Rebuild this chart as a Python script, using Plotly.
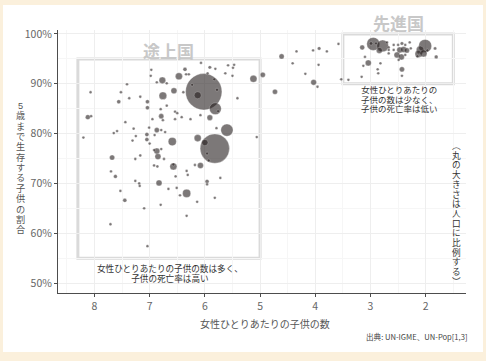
import plotly.graph_objects as go

# ---------------- data ----------------
# total fertility rate (children per woman)
tfr = [
    6.07, 5.91, 5.81, 5.58, 5.47, 5.49, 6.36, 6.97, 5.63, 5.50,
    5.12, 6.47, 6.34, 6.29, 6.98, 6.77, 6.87, 6.69, 7.41, 5.95,
    5.83, 6.23, 6.02, 6.13, 5.78, 6.56, 6.39, 6.76, 8.07, 7.52,
    7.56, 7.37, 7.17, 7.04, 7.04, 5.41, 5.81, 5.76, 5.91, 6.54,
    6.50, 6.80, 6.69, 6.79, 6.95, 6.76, 8.12, 8.06, 6.54, 6.42,
    6.26, 6.08, 7.44, 7.01, 7.29, 6.87, 6.79, 6.72, 7.59, 7.65,
    7.25, 7.05, 6.91, 7.05, 7.31, 8.20, 6.59, 6.13, 5.79, 5.60,
    5.06, 5.82, 6.00, 5.96, 5.93, 7.00, 6.79, 6.87, 6.85, 6.92,
    7.17, 7.26, 6.74, 7.68, 6.92, 6.86, 6.57, 6.57, 6.18, 6.08,
    7.70, 7.62, 6.33, 6.31, 6.53, 5.72, 7.26, 7.19, 7.18, 6.83,
    5.96, 5.96, 6.51, 6.66, 7.53, 6.33, 6.45, 6.14, 5.82, 7.45,
    6.80, 7.10, 6.33, 7.71, 7.04,
    # transition
    4.95, 4.73, 4.61, 4.34, 4.41, 4.18, 4.04, 3.93, 3.79, 3.94,
    4.03, 3.96, 3.58, 3.53, 3.40,
    # developed
    3.15, 2.95, 2.78, 2.84, 2.70, 2.67, 2.67, 2.67, 3.10, 3.04,
    3.13, 2.82, 2.87, 2.86, 3.16, 2.99, 2.90,
    2.58, 2.50, 2.43, 2.37, 2.29, 2.47, 2.40, 2.34, 2.52, 2.44,
    2.37, 2.49, 2.58, 2.27, 2.43, 2.43,
    2.01, 2.10, 2.13, 2.04, 1.97, 1.83, 1.81, 2.15,
]

# share of children surviving to age 5 (%)
survival = [
    94.2, 93.3, 93.0, 93.7, 93.8, 93.2, 92.9, 92.8, 92.1, 91.6,
    91.0, 91.5, 91.9, 91.9, 91.6, 90.7, 90.3, 90.1, 89.9, 92.1,
    90.9, 89.8, 88.4, 87.7, 88.8, 88.6, 88.3, 87.6, 88.3, 88.3,
    86.4, 87.1, 87.4, 86.4, 85.2, 87.1, 85.0, 84.5, 83.2, 84.4,
    84.1, 84.9, 85.6, 83.5, 82.9, 82.7, 83.3, 83.5, 82.9, 83.3,
    82.9, 83.7, 82.3, 81.2, 81.0, 80.7, 80.7, 80.3, 80.5, 80.1,
    79.5, 79.8, 79.7, 78.8, 78.6, 79.2, 78.4, 79.1, 81.1, 80.7,
    79.3, 77.0, 78.2, 76.0, 74.6, 78.0, 76.9, 76.5, 75.4, 76.7,
    75.6, 74.9, 74.9, 75.2, 73.6, 73.4, 73.8, 73.4, 73.7, 73.6,
    72.4, 71.4, 72.5, 71.7, 71.4, 71.1, 70.5, 70.0, 69.5, 70.1,
    70.4, 69.8, 69.1, 68.9, 68.5, 68.0, 67.6, 66.3, 67.1, 66.6,
    65.7, 65.0, 63.5, 61.8, 57.4,
    # transition
    91.8, 88.4, 95.5, 96.5, 94.1, 92.0, 96.7, 97.1, 96.5, 93.8,
    90.3, 89.4, 98.0, 90.9, 90.8,
    # developed
    97.3, 98.0, 97.6, 96.7, 98.3, 97.3, 96.8, 96.1, 95.4, 94.2,
    93.6, 94.1, 92.9, 92.1, 91.4, 98.1, 98.1,
    97.8, 97.8, 98.1, 97.8, 98.3, 96.8, 96.9, 96.7, 95.8, 95.4,
    95.8, 94.8, 96.8, 97.1, 92.9, 91.6,
    97.6, 96.8, 96.0, 96.1, 96.7, 97.1, 95.4, 95.5,
]

# population (millions)
population = [
    4, 6, 4, 4, 4, 4, 8, 4, 4, 4,
    25, 25, 4, 4, 4, 22, 4, 4, 4, 4,
    4, 4, 660, 25, 5, 18, 4, 30, 4, 4,
    8, 4, 4, 8, 8, 4, 70, 4, 16, 4,
    4, 4, 4, 13, 4, 4, 12, 4, 4, 4,
    4, 4, 4, 4, 4, 13, 4, 4, 4, 4,
    4, 8, 4, 8, 4, 4, 33, 25, 4, 75,
    4, 430, 20, 4, 4, 4, 4, 18, 18, 4,
    4, 4, 4, 13, 4, 4, 4, 25, 4, 18,
    4, 7, 4, 4, 4, 4, 4, 4, 4, 18,
    8, 4, 4, 4, 4, 33, 4, 4, 4, 8,
    4, 4, 4, 4, 4,
    # transition
    13, 13, 13, 4, 4, 4, 4, 6, 4, 4,
    16, 4, 4, 4, 4,
    # developed
    12, 85, 70, 18, 4, 4, 4, 4, 4, 18,
    4, 4, 4, 4, 4, 6, 4,
    4, 4, 6, 4, 4, 18, 18, 13, 18, 18,
    4, 4, 4, 4, 13, 4,
    85, 30, 25, 25, 4, 5, 7, 4,
]

x_ticks = [8, 7, 6, 5, 4, 3, 2]
y_ticks = [0.5, 0.6, 0.7, 0.8, 0.9, 1.0]
y_tick_text = ["50%", "60%", "70%", "80%", "90%", "100%"]

# ---------------- figure ----------------
W, H = 486, 361
ML, MR, MT, MB = 58, 20, 30, 68
PW, PH = W - ML - MR, H - MT - MB
FONT = "Noto Sans CJK JP"
TIGHT = "Liberation Sans, Noto Sans CJK JP"   # compact line metrics for stacked text
CREAM = "#fbf0dc"


def px_x(px):
    return (px - ML) / PW


def px_y(py):
    return (H - MB - py) / PH


def stacked(items, glyph_px):
    """Stack items vertically, each in its own span of the given glyph size."""
    return "<br>".join('<span style="font-size:%.2fpx">%s</span>' % (glyph_px, c)
                       for c in items)


order = sorted(range(len(tfr)), key=lambda i: -population[i])
xs = [tfr[i] for i in order]
ys = [survival[i] / 100 for i in order]
ss = [population[i] for i in order]

fig = go.Figure()
fig.add_trace(go.Scatter(
    x=xs, y=ys, mode="markers",
    marker=dict(size=ss, sizemode="area", sizeref=1.0, sizemin=1.3,
                color="rgba(35,27,27,0.84)",
                line=dict(color="rgba(255,255,255,0.6)", width=0.5)),
    hoverinfo="skip", showlegend=False,
))

shapes = [
    # white panel on cream page
    dict(type="rect", xref="paper", yref="paper",
         x0=px_x(3), x1=px_x(483), y0=px_y(352), y1=px_y(5),
         fillcolor="white", line=dict(width=0), layer="below"),
    dict(type="rect", xref="x", yref="y", x0=8.3, x1=5.0, y0=0.55, y1=0.95,
         line=dict(color="#dadada", width=3), layer="below"),
    dict(type="rect", xref="x", yref="y", x0=3.5, x1=1.5, y0=0.90, y1=1.0,
         line=dict(color="#dadada", width=3), layer="below"),
]

ann = [
    dict(x=6.65, y=px_y(50), xref="x", yref="paper", text="途上国", showarrow=False,
         xanchor="center", yanchor="middle",
         font=dict(family=FONT, size=17, color="#c8c8c8", weight="bold")),
    dict(x=2.5, y=px_y(22.7), xref="x", yref="paper", text="先進国", showarrow=False,
         xanchor="center", yanchor="middle",
         font=dict(family=FONT, size=17, color="#c8c8c8", weight="bold")),
]

# multi-line notes: line pitch set by base font size (1.3em), glyphs via span size
dev_lines = ["女性ひとりあたりの", "子供の数は少なく、", "子供の死亡率は低い"]
ann.append(dict(x=2.47, y=px_y(99.6), xref="x", yref="paper",
                text=stacked(dev_lines, 8.5),
                showarrow=False, xanchor="center", yanchor="middle", borderpad=0,
                font=dict(family=TIGHT, size=9.6 / 1.3, color="#333333")))

low_lines = ["女性ひとりあたりの子供の数は多く、", "子供の死亡率は高い"]
ann.append(dict(x=6.63, y=px_y(273.3), xref="x", yref="paper",
                text=stacked(low_lines, 8.6),
                showarrow=False, xanchor="center", yanchor="middle", borderpad=0,
                font=dict(family=TIGHT, size=10 / 1.3, color="#333333")))

# vertical y-axis title (upright stacked characters)
ytitle = "5歳まで生存する子供の割合"
ann.append(dict(x=px_x(20.7), y=px_y(168), xref="paper", yref="paper",
                text=stacked(ytitle, 9.2), showarrow=False,
                xanchor="center", yanchor="middle", borderpad=0,
                font=dict(family=TIGHT, size=10.35 / 1.3, color="#555555")))

# vertical note on the right
note = "︵丸の大きさは人口に比例する︶"
ann.append(dict(x=px_x(456), y=px_y(214), xref="paper", yref="paper",
                text=stacked(note, 8.65), showarrow=False,
                xanchor="center", yanchor="middle", borderpad=0,
                font=dict(family=TIGHT, size=9.7 / 1.3, color="#333333")))

ann.append(dict(x=px_x(265), y=px_y(323), xref="paper", yref="paper",
                text="女性ひとりあたりの子供の数", showarrow=False,
                xanchor="center", yanchor="middle",
                font=dict(family=FONT, size=10, color="#555555")))
ann.append(dict(x=px_x(469), y=px_y(336), xref="paper", yref="paper",
                text="出典: UN-IGME、UN-Pop[1,3]", showarrow=False,
                xanchor="right", yanchor="middle",
                font=dict(family=FONT, size=7.6, color="#444444")))

fig.update_layout(
    width=W, height=H,
    margin=dict(l=ML, r=MR, t=MT, b=MB, pad=0),
    paper_bgcolor=CREAM, plot_bgcolor="white",
    font=dict(family=FONT),
    shapes=shapes, annotations=ann,
    xaxis=dict(range=[8.66, 1.27], tickmode="array", tickvals=x_ticks,
               ticktext=[str(v) for v in x_ticks],
               showline=True, linecolor="#4d4d4d", linewidth=1,
               ticks="outside", ticklen=3, tickcolor="#4d4d4d",
               tickfont=dict(family=FONT, size=10.5, color="#666666"),
               showgrid=True, gridcolor="#eeeeee", gridwidth=1, zeroline=False,
               minor=dict(tickvals=[8.5, 7.5, 6.5, 5.5, 4.5, 3.5, 2.5, 1.5],
                          showgrid=True, gridcolor="#f6f6f6", ticks="")),
    yaxis=dict(range=[0.48, 1.008], tickmode="array", tickvals=y_ticks,
               ticktext=y_tick_text,
               showline=True, linecolor="#4d4d4d", linewidth=1,
               ticks="outside", ticklen=3, tickcolor="#4d4d4d",
               tickfont=dict(family=FONT, size=10.5, color="#666666"),
               showgrid=True, gridcolor="#eeeeee", gridwidth=1, zeroline=False,
               minor=dict(tickvals=[0.55, 0.65, 0.75, 0.85, 0.95],
                          showgrid=True, gridcolor="#f6f6f6", ticks="")),
)

fig.write_html(
    "out.html",
    config={"displayModeBar": False},
    post_script="document.body.style.margin='0';"
                "document.body.style.background='%s';"
                "document.body.style.overflow='hidden';" % CREAM,
)
